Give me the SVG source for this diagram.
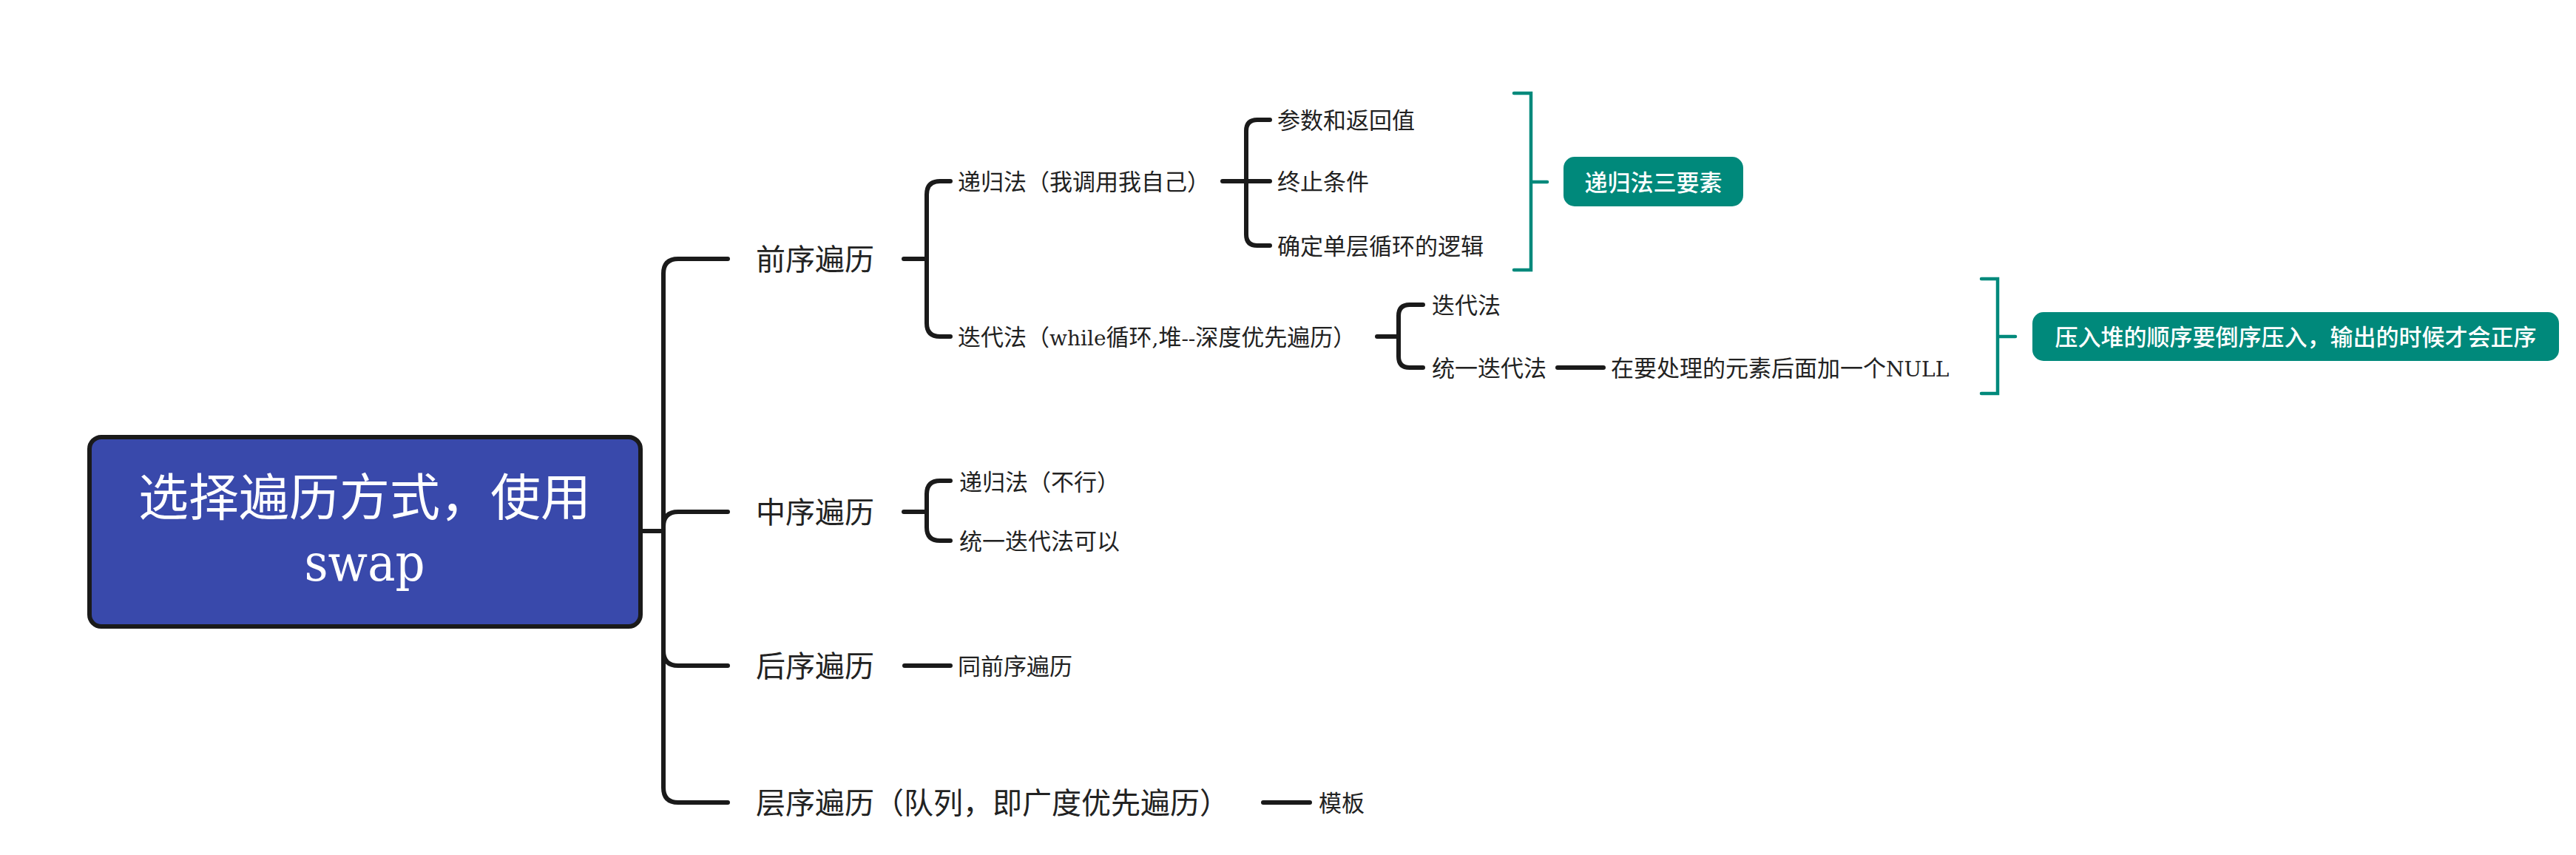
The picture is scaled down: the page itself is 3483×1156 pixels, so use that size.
<svg xmlns="http://www.w3.org/2000/svg" width="3483" height="1156" viewBox="0 0 3483 1156">
<style>
.bg{fill:#ffffff}
.ln{fill:none;stroke:#1a1a1a;stroke-width:6;stroke-linecap:round;stroke-linejoin:round}
.tl{fill:none;stroke:#00897b;stroke-width:4.5;stroke-linecap:round;stroke-linejoin:miter}
.t{font-family:"Noto Sans CJK SC","Noto Sans CJK JP",sans-serif;fill:#222222}
.t1{font-size:40px}
.t2{font-size:31px}
.lat{font-family:"DejaVu Serif","Liberation Serif",serif;font-size:28px}
.w{fill:#ffffff}
.b{font-weight:500}
.lab{fill:#00897b}
</style>
<rect class="bg" x="0" y="0" width="3483" height="1156"/>
<g id="connectors">
<path class="ln" d="M869,718 H897" stroke-width="5"/>
<path class="ln" d="M897,718 V370 Q897,350 917,350 H984"/>
<path class="ln" d="M897,718 V712 Q897,692 917,692 H984"/>
<path class="ln" d="M897,718 V880 Q897,900 917,900 H984"/>
<path class="ln" d="M897,718 V1065 Q897,1085 917,1085 H984"/>
<path class="ln" d="M1222,350 H1253"/>
<path class="ln" d="M1253,350 V263 Q1253,245 1271,245 H1285"/>
<path class="ln" d="M1253,350 V437 Q1253,455 1271,455 H1285"/>
<path class="ln" d="M1653,245 H1685"/>
<path class="ln" d="M1685,245 V177 Q1685,162 1700,162 H1717"/>
<path class="ln" d="M1685,245 H1717"/>
<path class="ln" d="M1685,245 V317 Q1685,332 1700,332 H1717"/>
<path class="ln" d="M1862,455 H1891"/>
<path class="ln" d="M1891,455 V427 Q1891,412 1906,412 H1924"/>
<path class="ln" d="M1891,455 V482 Q1891,497 1906,497 H1924"/>
<path class="ln" d="M2106,497 H2168"/>
<path class="ln" d="M1222,692 H1253"/>
<path class="ln" d="M1253,692 V668 Q1253,650 1271,650 H1285"/>
<path class="ln" d="M1253,692 V713 Q1253,731 1271,731 H1285"/>
<path class="ln" d="M1223,900 H1285"/>
<path class="ln" d="M1708,1085 H1771"/>
<path class="tl" d="M2047,126 H2070 V365 H2047 M2070,246 H2092"/>
<path class="tl" d="M2679,377 H2701 V532 H2679 M2701,455 H2725"/>
</g>
<g id="root">
<rect x="121" y="591" width="745" height="256" rx="16" ry="16" fill="#3949ab" stroke="#1a1a1a" stroke-width="6"/>
<text class="t w" x="493" y="697" font-size="68" text-anchor="middle">选择遍历方式，使用</text>
<text class="w" x="493" y="785" font-family="DejaVu Serif, Liberation Serif, serif" font-size="70" text-anchor="middle" textLength="163" lengthAdjust="spacingAndGlyphs">swap</text>
</g>
<g id="n-qianxu"><text class="t t1" x="1022" y="365">前序遍历</text></g>
<g id="n-zhongxu"><text class="t t1" x="1022" y="707">中序遍历</text></g>
<g id="n-houxu"><text class="t t1" x="1022" y="915">后序遍历</text></g>
<g id="n-cengxu"><text class="t t1" x="1022" y="1100">层序遍历（队列，即广度优先遍历）</text></g>
<g id="n-digui"><text class="t t2" x="1295" y="257">递归法（我调用我自己）</text></g>
<g id="n-diedai"><text class="t t2" x="1295" y="467">迭代法（<tspan class="lat">while</tspan>循环<tspan class="lat">,</tspan>堆<tspan class="lat">--</tspan>深度优先遍历）</text></g>
<g id="n-canshu"><text class="t t2" x="1727" y="174">参数和返回值</text></g>
<g id="n-zhongzhi"><text class="t t2" x="1727" y="257">终止条件</text></g>
<g id="n-queding"><text class="t t2" x="1727" y="344">确定单层循环的逻辑</text></g>
<g id="n-diedai2"><text class="t t2" x="1936" y="424">迭代法</text></g>
<g id="n-tongyi"><text class="t t2" x="1936" y="509">统一迭代法</text></g>
<g id="n-null"><text class="t t2" x="2178" y="509">在要处理的元素后面加一个<tspan class="lat">NULL</tspan></text></g>
<g id="n-zx-digui"><text class="t t2" x="1297" y="663">递归法（不行）</text></g>
<g id="n-zx-tongyi"><text class="t t2" x="1297" y="743">统一迭代法可以</text></g>
<g id="n-tongqian"><text class="t t2" x="1295" y="912">同前序遍历</text></g>
<g id="n-muban"><text class="t t2" x="1783" y="1097">模板</text></g>
<g id="summary1">
<rect class="lab" x="2114" y="212" width="243" height="67" rx="15" ry="15"/>
<text class="t t2 w b" x="2235.5" y="258" text-anchor="middle">递归法三要素</text>
</g>
<g id="summary2">
<rect class="lab" x="2748" y="422" width="712" height="66" rx="15" ry="15"/>
<text class="t t2 w b" x="3104" y="467" text-anchor="middle">压入堆的顺序要倒序压入，输出的时候才会正序</text>
</g>
</svg>
